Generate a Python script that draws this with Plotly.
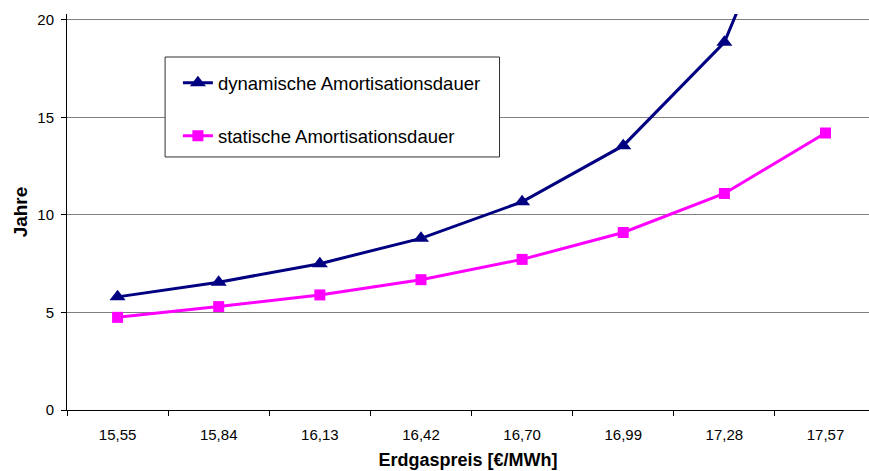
import plotly.graph_objects as go

# Erdgaspreis-Szenarien in €/MWh
preise = ["15,55", "15,84", "16,13", "16,42", "16,70", "16,99", "17,28", "17,57"]

# Amortisationsdauer in Jahren
dynamisch = [5.8, 6.55, 7.5, 8.8, 10.67, 13.55, 18.85, 31.3]
statisch = [4.75, 5.3, 5.9, 6.68, 7.72, 9.1, 11.1, 14.2]

FONT = "Liberation Sans, Arial, sans-serif"

fig = go.Figure()
fig.add_trace(go.Scatter(
    x=preise, y=dynamisch, mode="lines+markers",
    name="dynamische Amortisationsdauer", legendgroup="dyn",
    line=dict(color="#000080", width=3),
    marker=dict(symbol="triangle-up", size=14, color="#000080"),
))
fig.add_trace(go.Scatter(
    x=preise, y=statisch, mode="lines+markers",
    name="statische Amortisationsdauer", legendgroup="stat",
    line=dict(color="#FF00FF", width=3),
    marker=dict(symbol="square", size=11, color="#FF00FF"),
))

# Legendenrahmen
fig.add_shape(
    type="rect", xref="paper", yref="paper", layer="above",
    x0=0.1223, x1=0.5393, y0=0.639, y1=0.8914,
    line=dict(color="#303030", width=1), fillcolor="white",
)

fig.update_layout(
    width=869, height=471,
    margin=dict(l=67, r=0, t=14, b=61),
    paper_bgcolor="white", plot_bgcolor="white",
    font=dict(family=FONT, size=15, color="black"),
    showlegend=True,
    legend=dict(
        x=0.1223 + 0.016, y=0.873, xanchor="left", yanchor="top",
        bgcolor="rgba(0,0,0,0)", borderwidth=0,
        font=dict(family=FONT, size=18.5, color="black"),
        tracegroupgap=26, itemwidth=30,
    ),
    xaxis=dict(
        type="category", range=[-0.5, 7.43],
        showgrid=False, zeroline=False,
        showline=True, linecolor="black", linewidth=1,
        ticks="outside", tickson="boundaries", ticklen=5, tickcolor="black",
        tickfont=dict(size=15), ticklabelstandoff=11,
        title=dict(text="<b>Erdgaspreis [€/MWh]</b>", font=dict(size=18), standoff=11),
    ),
    yaxis=dict(
        range=[0, 20.3], tick0=0, dtick=5,
        showgrid=True, gridcolor="#808080", gridwidth=1,
        zeroline=False,
        showline=True, linecolor="black", linewidth=1,
        ticks="outside", ticklen=5, tickcolor="black",
        tickfont=dict(size=15), ticklabelstandoff=4,
        title=dict(text="<b>Jahre</b>", font=dict(size=19), standoff=4),
    ),
)

fig.write_html("out.html")
